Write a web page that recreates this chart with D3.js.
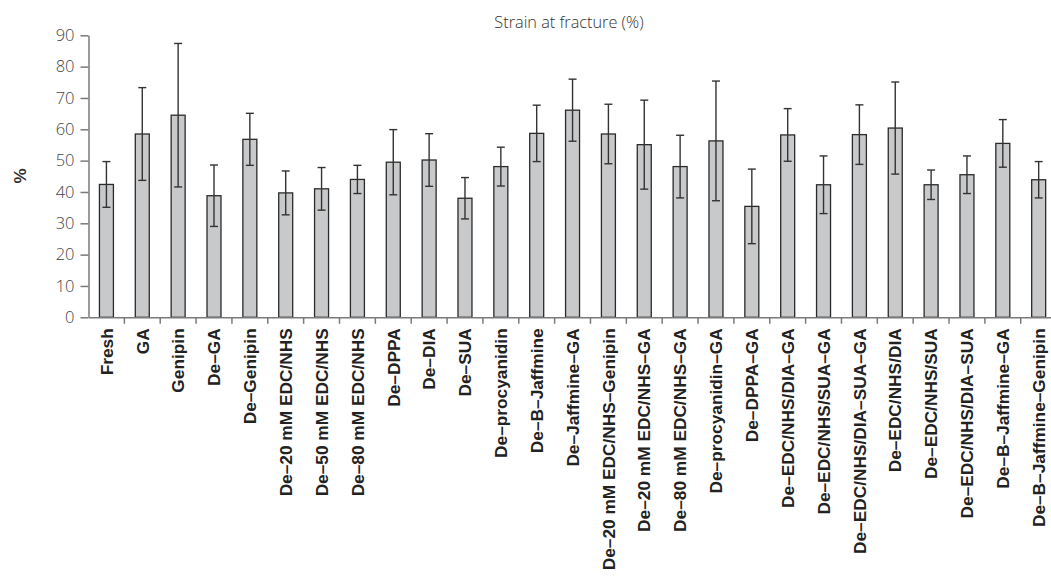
<!DOCTYPE html>
<html>
<head>
<meta charset="utf-8">
<script src="https://cdn.jsdelivr.net/npm/d3@7"></script>
<style>
  html, body { margin: 0; padding: 0; background: #fff; }
  svg { display: block; }
</style>
</head>
<body>
<svg id="chart" width="1051" height="577"></svg>
<script>
const categories = [
  "Fresh", "GA", "Genipin", "De\u2013GA", "De\u2013Genipin",
  "De\u201320 mM EDC/NHS", "De\u201350 mM EDC/NHS", "De\u201380 mM EDC/NHS",
  "De\u2013DPPA", "De\u2013DIA", "De\u2013SUA", "De\u2013procyanidin",
  "De\u2013B\u2013Jaffmine", "De\u2013Jaffmine\u2013GA",
  "De\u201320 mM EDC/NHS\u2013Genipin", "De\u201320 mM EDC/NHS\u2013GA",
  "De\u201380 mM EDC/NHS\u2013GA", "De\u2013procyanidin\u2013GA", "De\u2013DPPA\u2013GA",
  "De\u2013EDC/NHS/DIA\u2013GA", "De\u2013EDC/NHS/SUA\u2013GA",
  "De\u2013EDC/NHS/DIA\u2013SUA\u2013GA", "De\u2013EDC/NHS/DIA", "De\u2013EDC/NHS/SUA",
  "De\u2013EDC/NHS/DIA\u2013SUA", "De\u2013B\u2013Jaffmine\u2013GA", "De\u2013B\u2013Jaffmine\u2013Genipin"
];
const means = [
  42.4, 58.5, 64.5, 38.8, 56.8, 39.7, 41.0, 44.0, 49.5, 50.2, 38.0, 48.1, 58.7, 66.1,
  58.5, 55.1, 48.1, 56.3, 35.4, 58.2, 42.3, 58.3, 60.4, 42.3, 45.5, 55.5, 43.9
];
const errors = [
  7.3, 14.8, 22.9, 9.8, 8.3, 7.0, 6.8, 4.5, 10.4, 8.4, 6.6, 6.2, 9.0, 9.9,
  9.5, 14.2, 10.0, 19.1, 11.9, 8.4, 9.2, 9.5, 14.7, 4.7, 6.0, 7.6, 5.8
];
const yTicks = [0, 10, 20, 30, 40, 50, 60, 70, 80, 90];
const title = "Strain at fracture (%)";
const yLabel = "%";

const data = categories.map((c, i) => ({ cat: c, mean: means[i], err: errors[i] }));

const svg = d3.select("#chart");
const x0 = 88.5, x1 = 1056.6, yBottom = 317.3, yTop = 35.3;

const x = d3.scaleBand().domain(categories).range([x0, x1])
  .paddingInner(0.61).paddingOuter(0.305);
const y = d3.scaleLinear().domain([0, 90]).range([yBottom, yTop]);

const axisColor = "#7a7a7a";
const textColor = "#333";

// Title
svg.append("text")
  .attr("x", 569).attr("y", 28)
  .attr("text-anchor", "middle")
  .attr("font-family", "'Open Sans', 'Noto Sans', sans-serif")
  .attr("font-weight", 300)
  .attr("font-size", 16.3)
  .attr("fill", textColor)
  .text(title);

// Y axis
const yAxis = svg.append("g")
  .attr("transform", `translate(${x0},0)`)
  .call(d3.axisLeft(y).tickValues(yTicks).tickSize(8).tickSizeOuter(0).tickPadding(6));
yAxis.select(".domain").attr("stroke", axisColor).attr("stroke-width", 1.5);
yAxis.selectAll(".tick line").attr("stroke", axisColor).attr("stroke-width", 1.5);
yAxis.selectAll(".tick text")
  .attr("font-family", "'Open Sans', 'Noto Sans', sans-serif")
  .attr("font-weight", 300)
  .attr("font-size", 16.5)
  .attr("fill", "#444");

// Y label
svg.append("text")
  .attr("transform", `translate(20,176) rotate(-90)`)
  .attr("text-anchor", "middle")
  .attr("dy", "0.35em")
  .attr("font-family", "'Liberation Sans', Arial, sans-serif")
  .attr("font-weight", "bold")
  .attr("font-size", 17)
  .attr("fill", textColor)
  .text(yLabel);

// Bars
svg.append("g").selectAll("rect").data(data).join("rect")
  .attr("x", d => x(d.cat))
  .attr("y", d => y(d.mean))
  .attr("width", x.bandwidth())
  .attr("height", d => y(0) - y(d.mean))
  .attr("fill", "#c8c9cb")
  .attr("stroke", "#2a2a2a")
  .attr("stroke-width", 1.3);

// Error bars
const eb = svg.append("g").attr("stroke", "#333").attr("stroke-width", 1.4);
const cx = d => x(d.cat) + x.bandwidth() / 2;
eb.selectAll("line.v").data(data).join("line").attr("class", "v")
  .attr("x1", cx).attr("x2", cx)
  .attr("y1", d => y(d.mean + d.err)).attr("y2", d => y(d.mean - d.err));
eb.selectAll("line.t").data(data).join("line").attr("class", "t")
  .attr("x1", d => cx(d) - 4).attr("x2", d => cx(d) + 4)
  .attr("y1", d => y(d.mean + d.err)).attr("y2", d => y(d.mean + d.err));
eb.selectAll("line.b").data(data).join("line").attr("class", "b")
  .attr("x1", d => cx(d) - 4).attr("x2", d => cx(d) + 4)
  .attr("y1", d => y(d.mean - d.err)).attr("y2", d => y(d.mean - d.err));

// X axis (labels)
const xAxis = svg.append("g")
  .attr("transform", `translate(0,${yBottom})`)
  .call(d3.axisBottom(x).tickSize(0).tickSizeOuter(0));
xAxis.select(".domain").attr("stroke", axisColor).attr("stroke-width", 1.5);
xAxis.selectAll(".tick text")
  .attr("transform", "rotate(-90)")
  .attr("text-anchor", "end")
  .attr("x", -11)
  .attr("y", 0)
  .attr("dy", "0.36em")
  .attr("font-family", "'Liberation Sans', Arial, sans-serif")
  .attr("font-weight", "bold")
  .attr("font-size", 17.3)
  .attr("fill", "#222");

// Boundary ticks between categories
const step = x.step();
svg.append("g").selectAll("line").data(categories).join("line")
  .attr("x1", d => x(d) + x.bandwidth() / 2 + step / 2)
  .attr("x2", d => x(d) + x.bandwidth() / 2 + step / 2)
  .attr("y1", yBottom).attr("y2", yBottom + 6.5)
  .attr("stroke", axisColor).attr("stroke-width", 1.5);
</script>
</body>
</html>
